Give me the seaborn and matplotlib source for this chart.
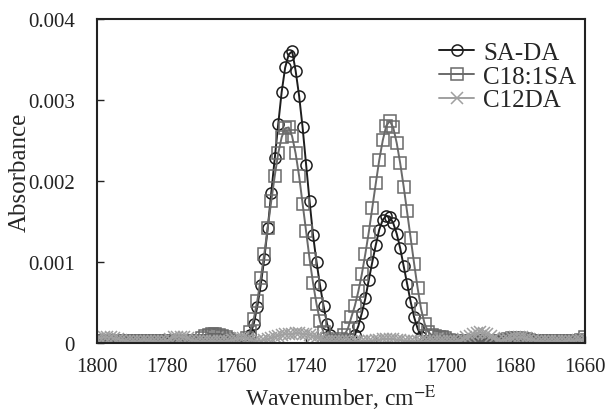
import numpy as np
import pandas as pd
import matplotlib
matplotlib.use("Agg")
import matplotlib.pyplot as plt
import seaborn as sns
from matplotlib.ticker import FuncFormatter

# wavenumber grid, 1 cm-1 step, 1800 -> 1660
wavenumber = np.arange(1800, 1659, -1)

# absorbance, one row = 10 points (1800..1791, 1790..1781, ...)
sa_da = [
    0.00002, 0.00002, 0.00003, 0.00002, 0.00002, 0.00001, 0.00001, 0.00002, 0.00002, 0.00002,
    0.00002, 0.00002, 0.00001, 0.00001, 0.00002, 0.00002, 0.00002, 0.00002, 0.00001, 0.00001,
    0.00001, 0.00002, 0.00002, 0.00003, 0.00003, 0.00002, 0.00002, 0.00002, 0.00002, 0.00002,
    0.00003, 0.00004, 0.00005, 0.00005, 0.00005, 0.00005, 0.00004, 0.00003, 0.00002, 0.00002,
    0.00002, 0.00002, 0.00002, 0.00004, 0.00010, 0.00024, 0.00045, 0.00072, 0.00104, 0.00142,
    0.00185, 0.00228, 0.00270, 0.00310, 0.00340, 0.00356, 0.00360, 0.00336, 0.00305, 0.00266,
    0.00220, 0.00175, 0.00133, 0.00100, 0.00071, 0.00046, 0.00024, 0.00010, 0.00004, 0.00002,
    0.00002, 0.00002, 0.00002, 0.00005, 0.00010, 0.00021, 0.00037, 0.00055, 0.00078, 0.00100,
    0.00121, 0.00140, 0.00152, 0.00157, 0.00156, 0.00148, 0.00135, 0.00117, 0.00095, 0.00073,
    0.00051, 0.00032, 0.00018, 0.00008, 0.00003, 0.00002, 0.00002, 0.00002, 0.00002, 0.00002,
    0.00002, 0.00002, 0.00002, 0.00001, 0.00001, 0.00002, 0.00002, 0.00003, 0.00003, 0.00004,
    0.00004, 0.00004, 0.00003, 0.00003, 0.00002, 0.00002, 0.00002, 0.00002, 0.00002, 0.00002,
    0.00003, 0.00003, 0.00003, 0.00002, 0.00002, 0.00002, 0.00002, 0.00002, 0.00002, 0.00002,
    0.00002, 0.00002, 0.00002, 0.00002, 0.00002, 0.00002, 0.00002, 0.00003, 0.00003, 0.00004,
    0.00004,
]

c18_1sa = [
    0.00003, 0.00003, 0.00002, 0.00002, 0.00002, 0.00003, 0.00003, 0.00002, 0.00002, 0.00002,
    0.00002, 0.00002, 0.00002, 0.00002, 0.00002, 0.00002, 0.00002, 0.00002, 0.00002, 0.00002,
    0.00002, 0.00002, 0.00002, 0.00003, 0.00003, 0.00003, 0.00002, 0.00002, 0.00002, 0.00003,
    0.00006, 0.00009, 0.00010, 0.00011, 0.00011, 0.00010, 0.00009, 0.00007, 0.00005, 0.00003,
    0.00003, 0.00002, 0.00002, 0.00006, 0.00014, 0.00030, 0.00052, 0.00080, 0.00110, 0.00142,
    0.00175, 0.00206, 0.00234, 0.00254, 0.00265, 0.00266, 0.00255, 0.00234, 0.00206, 0.00172,
    0.00138, 0.00104, 0.00074, 0.00048, 0.00027, 0.00013, 0.00005, 0.00002, 0.00002, 0.00002,
    0.00005, 0.00010, 0.00018, 0.00032, 0.00046, 0.00064, 0.00085, 0.00110, 0.00137, 0.00167,
    0.00197, 0.00226, 0.00250, 0.00268, 0.00274, 0.00266, 0.00247, 0.00222, 0.00193, 0.00163,
    0.00130, 0.00098, 0.00068, 0.00042, 0.00024, 0.00014, 0.00010, 0.00009, 0.00008, 0.00008,
    0.00006, 0.00004, 0.00003, 0.00002, 0.00002, 0.00002, 0.00002, 0.00002, 0.00002, 0.00002,
    0.00002, 0.00002, 0.00002, 0.00002, 0.00002, 0.00002, 0.00003, 0.00004, 0.00005, 0.00006,
    0.00006, 0.00006, 0.00005, 0.00005, 0.00004, 0.00003, 0.00002, 0.00002, 0.00002, 0.00002,
    0.00002, 0.00002, 0.00002, 0.00002, 0.00002, 0.00002, 0.00002, 0.00003, 0.00003, 0.00004,
    0.00008,
]

c12da = [
    0.00005, 0.00006, 0.00007, 0.00007, 0.00007, 0.00006, 0.00005, 0.00004, 0.00003, 0.00002,
    0.00002, 0.00002, 0.00002, 0.00003, 0.00003, 0.00003, 0.00002, 0.00002, 0.00002, 0.00002,
    0.00003, 0.00005, 0.00007, 0.00008, 0.00008, 0.00007, 0.00006, 0.00004, 0.00003, 0.00002,
    0.00002, 0.00002, 0.00002, 0.00002, 0.00002, 0.00002, 0.00002, 0.00002, 0.00003, 0.00004,
    0.00005, 0.00006, 0.00006, 0.00005, 0.00004, 0.00003, 0.00003, 0.00003, 0.00004, 0.00005,
    0.00006, 0.00008, 0.00009, 0.00010, 0.00011, 0.00011, 0.00011, 0.00012, 0.00012, 0.00011,
    0.00011, 0.00010, 0.00009, 0.00007, 0.00005, 0.00003, 0.00002, 0.00002, 0.00002, 0.00002,
    0.00002, 0.00002, 0.00002, 0.00002, 0.00002, 0.00002, 0.00002, 0.00002, 0.00003, 0.00003,
    0.00004, 0.00004, 0.00005, 0.00005, 0.00005, 0.00005, 0.00004, 0.00004, 0.00003, 0.00003,
    0.00002, 0.00002, 0.00002, 0.00002, 0.00002, 0.00002, 0.00002, 0.00002, 0.00002, 0.00002,
    0.00002, 0.00002, 0.00002, 0.00002, 0.00003, 0.00005, 0.00007, 0.00009, 0.00011, 0.00012,
    0.00013, 0.00012, 0.00011, 0.00009, 0.00006, 0.00004, 0.00003, 0.00004, 0.00005, 0.00006,
    0.00007, 0.00007, 0.00007, 0.00006, 0.00005, 0.00004, 0.00003, 0.00002, 0.00002, 0.00002,
    0.00002, 0.00002, 0.00002, 0.00002, 0.00002, 0.00003, 0.00003, 0.00003, 0.00004, 0.00004,
    0.00005,
]

series = {"SA-DA": sa_da, "C18:1SA": c18_1sa, "C12DA": c12da}
colors = {"SA-DA": "#1e1e1e", "C18:1SA": "#6a6a6a", "C12DA": "#a0a0a0"}
markers = {"SA-DA": "o", "C18:1SA": "s", "C12DA": "x"}

sns.set_style("ticks")
plt.rcParams["font.family"] = ["Liberation Serif", "DejaVu Serif"]
plt.rcParams["mathtext.fontset"] = "stix"

fig = plt.figure(figsize=(6.08, 4.14), dpi=100)
ax = fig.add_axes([0.1595, 0.169, 0.8025, 0.783])

for name, vals in series.items():
    df = pd.DataFrame({"wn": wavenumber, "abs": vals})
    c = colors[name]
    sns.lineplot(data=df, x="wn", y="abs", ax=ax, color=c, lw=1.4,
                 marker=markers[name], markersize=8,
                 mfc="none", mec=c, mew=1.1, label=name)

ax.set_xlim(1800, 1660)
ax.set_ylim(0, 0.004)
ax.set_xticks(np.arange(1800, 1659, -20))
ax.set_yticks([0, 0.001, 0.002, 0.003, 0.004])
ax.yaxis.set_major_formatter(FuncFormatter(lambda v, p: "0" if v == 0 else f"{v:.3f}"))
ax.tick_params(direction="in", length=5, width=1, labelsize=15, colors="#222222")
ax.tick_params(axis="x", pad=10)
ax.tick_params(axis="y", pad=16)
for s in ax.spines.values():
    s.set_linewidth(1.5)
    s.set_color("#222222")

ax.set_xlabel(r"Wavenumber, cm$^{-\mathrm{E}}$", fontsize=17)
ax.xaxis.set_label_coords(0.5, -0.12)
ax.set_ylabel("Absorbance", fontsize=18)
ax.yaxis.set_label_coords(-0.135, 0.53)

ax.legend(loc="upper right", bbox_to_anchor=(1.028, 1.0), frameon=False,
          fontsize=18, handlelength=1.4, handletextpad=0.35, labelspacing=0.05)

fig.savefig("out.png", dpi=100)
